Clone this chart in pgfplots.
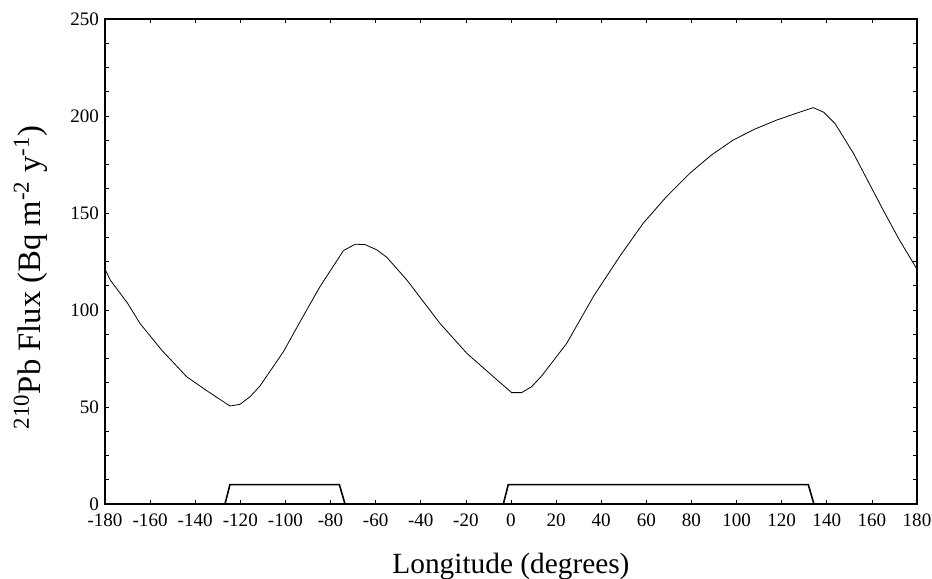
\documentclass[border=0pt]{standalone}
\usepackage{pgfplots}
\pgfplotsset{compat=1.18}
\usepackage{fontspec}
\setmainfont{Liberation Serif}

\begin{document}
\begin{tikzpicture}
\begin{axis}[
    width=609pt, height=363.75pt,
    scale only axis,
    xmin=-180, xmax=180,
    ymin=0, ymax=250,
    xtick={-180,-160,...,180},
    ytick={0,50,...,250},
    minor y tick num=3,
    tick align=inside,
    major tick length=3pt,
    minor tick length=3pt,
    axis line style={line width=1.2pt},
    every tick/.style={black, line width=0.5pt},
    /pgf/number format/assume math mode=true,
    /pgf/number format/1000 sep={},
    tick label style={font=\fontsize{14.3}{16}\selectfont},
    xticklabel style={yshift=-4pt},
    yticklabel style={xshift=-1pt},
    xlabel={Longitude (degrees)},
    ylabel={\textsuperscript{210}Pb Flux (Bq m\textsuperscript{-2} y\textsuperscript{-1})},
    xlabel style={font=\fontsize{22}{26}\selectfont, yshift=-12.5pt},
    ylabel style={font=\fontsize{24.5}{28}\selectfont, yshift=10pt, xshift=-12pt},
    clip=false,
  ]

  % flux along the transect
  \addplot[black, line width=0.6pt] coordinates {
    (-180,121) (-177.7,115.5) (-170,103.5) (-164.5,93.1) (-155,79.5)
    (-143.8,65.6) (-135,58.5) (-124.6,50.5) (-120.1,51.4) (-115.7,55.3)
    (-111.3,60.8) (-100.9,78.5) (-93.5,94) (-84.7,112) (-74.3,130.6)
    (-69.1,133.9) (-64.7,133.7) (-59.5,131) (-55.1,127.2) (-46.2,115.5)
    (-31.5,93.1) (-19.6,77.7) (-7.8,65.6) (0.3,57.4) (4.7,57.4)
    (9.2,60.5) (13.6,66) (24.7,82.8) (36.5,106.9) (48.3,127.8)
    (58.6,144.7) (69,158.5) (79.3,170.5) (89,180) (98.5,187.6)
    (108,193.2) (117.8,197.9) (126,201.2) (134,204.3) (138.7,201.9)
    (143.6,196.2) (151.8,180.8) (165,151.5) (172,136.5) (180,121)
  };

  % land mask
  \addplot[black, line width=1.2pt] coordinates {
    (-180,0) (-126.8,0) (-124.6,10) (-76.1,10) (-73.6,0)
    (-3.4,0) (-1.2,10) (131.8,10) (134.3,0) (180,0)
  };

  \coordinate (bl) at (rel axis cs:0,0);
  \coordinate (tr) at (rel axis cs:1,1);
\end{axis}
\pgfresetboundingbox
\path[use as bounding box] ([shift={(-78.75pt,-56.25pt)}]bl) rectangle ([shift={(11.25pt,14.25pt)}]tr);
\end{tikzpicture}
\end{document}
